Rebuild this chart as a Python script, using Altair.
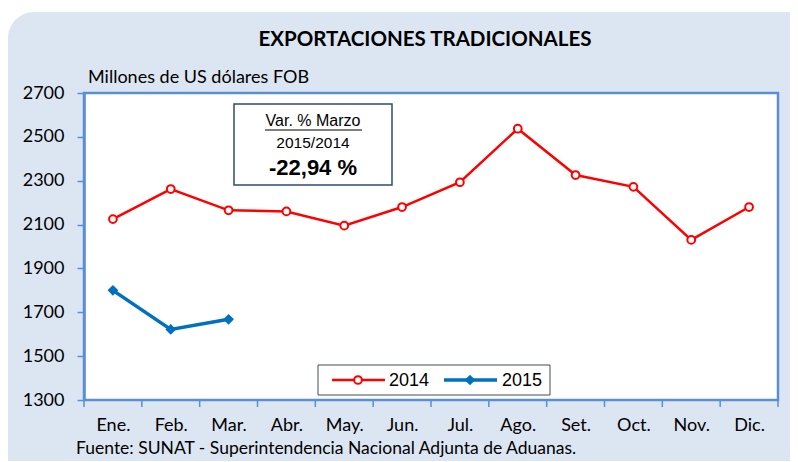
import json
import altair as alt
import pandas as pd

months = ["Ene.", "Feb.", "Mar.", "Abr.", "May.", "Jun.", "Jul.", "Ago.", "Set.", "Oct.", "Nov.", "Dic."]
v2014 = [2125, 2262, 2165, 2160, 2095, 2180, 2293, 2537, 2326, 2272, 2030, 2180]
v2015 = [1800, 1622, 1668]
y_ticks = [1300, 1500, 1700, 1900, 2100, 2300, 2500, 2700]

W, H = 694, 307
BLUE_BORDER = "#5a8ed6"
BG = "#dce6f2"
CAL = "Lato"
ARIAL = "Liberation Sans"

d14 = pd.DataFrame({"pos": [i + 0.5 for i in range(12)], "v": v2014})
d15 = pd.DataFrame({"pos": [i + 0.5 for i in range(3)], "v": v2015})
dticks = pd.DataFrame({"pos": list(range(13))})
one = pd.DataFrame({"a": [0]})

label_expr = json.dumps(months).replace('"', "'") + "[floor(datum.value)]"

xs = alt.Scale(domain=[0, 12], nice=False, zero=False)
ys = alt.Scale(domain=[1300, 2700], nice=False, zero=False)

# background rounded panel
bg = alt.Chart(one).mark_rect(fill=BG, cornerRadius=26).encode(
    x=alt.value(-76), x2=alt.value(W + 60), y=alt.value(-81), y2=alt.value(H + 120)
)
plot_bg = alt.Chart(one).mark_rect(fill="white", stroke=BLUE_BORDER, strokeWidth=2.5).encode(
    x=alt.value(0), x2=alt.value(W), y=alt.value(0), y2=alt.value(H)
)

xaxis = alt.Axis(
    values=[i + 0.5 for i in range(12)], labelExpr=label_expr, ticks=False, domain=False,
    grid=False, labelFont=CAL, labelFontSize=18, labelColor="black", labelPadding=16,
    title=None, zindex=1,
)
yaxis = alt.Axis(
    values=y_ticks, format="d", grid=False, domain=True, domainColor=BLUE_BORDER, domainWidth=2.5,
    tickColor=BLUE_BORDER, tickSize=7, tickWidth=1.5, labelFont=CAL, labelFontSize=18,
    labelColor="black", labelPadding=13, title=None, zindex=1,
)

line14 = alt.Chart(d14).mark_line(color="#ff0000", strokeWidth=2.5).encode(
    x=alt.X("pos:Q", scale=xs, axis=xaxis),
    y=alt.Y("v:Q", scale=ys, axis=yaxis),
)
pts14 = alt.Chart(d14).mark_point(shape="circle", filled=True, fill="white", stroke="#ff0000",
                                  strokeWidth=2, size=60, opacity=1).encode(
    x=alt.X("pos:Q", scale=xs), y=alt.Y("v:Q", scale=ys)
)
line15 = alt.Chart(d15).mark_line(color="#0070c0", strokeWidth=3.5).encode(
    x=alt.X("pos:Q", scale=xs), y=alt.Y("v:Q", scale=ys)
)
pts15 = alt.Chart(d15).mark_point(shape="diamond", filled=True, color="#0070c0", size=115, opacity=1).encode(
    x=alt.X("pos:Q", scale=xs), y=alt.Y("v:Q", scale=ys)
)

xticks = alt.Chart(dticks).mark_rule(color=BLUE_BORDER, strokeWidth=1.5).encode(
    x=alt.X("pos:Q", scale=xs), y=alt.value(H), y2=alt.value(H + 7)
)

title = alt.Chart(one).mark_text(text="EXPORTACIONES TRADICIONALES", font=CAL, fontSize=20.5,
                                 fontWeight="bold", color="black", align="center", baseline="middle").encode(
    x=alt.value(341), y=alt.value(-53)
)
ytitle = alt.Chart(one).mark_text(text="Millones de US dólares FOB", font=CAL, fontSize=18,
                                  color="black", align="left", baseline="middle").encode(
    x=alt.value(4), y=alt.value(-15)
)
source = alt.Chart(one).mark_text(text="Fuente: SUNAT - Superintendencia Nacional Adjunta de Aduanas.",
                                  font=CAL, fontSize=17.5, color="black", align="left", baseline="middle").encode(
    x=alt.value(-8), y=alt.value(356)
)

# annotation box
box = alt.Chart(one).mark_rect(fill="white", stroke="#2f4a73", strokeWidth=1.5).encode(
    x=alt.value(150), x2=alt.value(308), y=alt.value(11), y2=alt.value(92)
)
t1 = alt.Chart(one).mark_text(text="Var. % Marzo", font=ARIAL, fontSize=16, color="black",
                              align="center", baseline="middle").encode(x=alt.value(229), y=alt.value(28))
ul = alt.Chart(one).mark_rule(color="black", strokeWidth=1).encode(
    x=alt.value(181), x2=alt.value(278), y=alt.value(37)
)
t2 = alt.Chart(one).mark_text(text="2015/2014", font=ARIAL, fontSize=15.5, color="black",
                              align="center", baseline="middle").encode(x=alt.value(229), y=alt.value(50))
t3 = alt.Chart(one).mark_text(text="-22,94 %", font=ARIAL, fontSize=22, fontWeight="bold", color="black",
                              align="center", baseline="middle").encode(x=alt.value(229), y=alt.value(75))

# legend
lbox = alt.Chart(one).mark_rect(fill="white", stroke="#404a5c", strokeWidth=1).encode(
    x=alt.value(234), x2=alt.value(466), y=alt.value(272), y2=alt.value(302)
)
l1 = alt.Chart(one).mark_rule(color="#ff0000", strokeWidth=2.5).encode(
    x=alt.value(248), x2=alt.value(301), y=alt.value(287)
)
lp1 = alt.Chart(one).mark_point(shape="circle", filled=True, fill="white", stroke="#ff0000",
                                strokeWidth=2, size=60, opacity=1).encode(x=alt.value(274), y=alt.value(287))
lt1 = alt.Chart(one).mark_text(text="2014", font=ARIAL, fontSize=18, color="black",
                               align="left", baseline="middle").encode(x=alt.value(305), y=alt.value(288))
l2 = alt.Chart(one).mark_rule(color="#0070c0", strokeWidth=3.5).encode(
    x=alt.value(360), x2=alt.value(413), y=alt.value(287)
)
lp2 = alt.Chart(one).mark_point(shape="diamond", filled=True, color="#0070c0", size=115,
                                opacity=1).encode(x=alt.value(386), y=alt.value(287))
lt2 = alt.Chart(one).mark_text(text="2015", font=ARIAL, fontSize=18, color="black",
                               align="left", baseline="middle").encode(x=alt.value(418), y=alt.value(288))

chart = alt.layer(
    bg, plot_bg, line14, pts14, line15, pts15, xticks, title, ytitle, source,
    box, t1, ul, t2, t3, lbox, l1, lp1, lt1, l2, lp2, lt2,
).properties(
    width=W, height=H,
    autosize=alt.AutoSizeParams(type="none"),
    padding={"left": 76, "top": 85, "right": 12, "bottom": 61},
    background="white",
).configure_view(stroke=None)

chart.save("out.html", embed_options={"renderer": "svg", "actions": False})
